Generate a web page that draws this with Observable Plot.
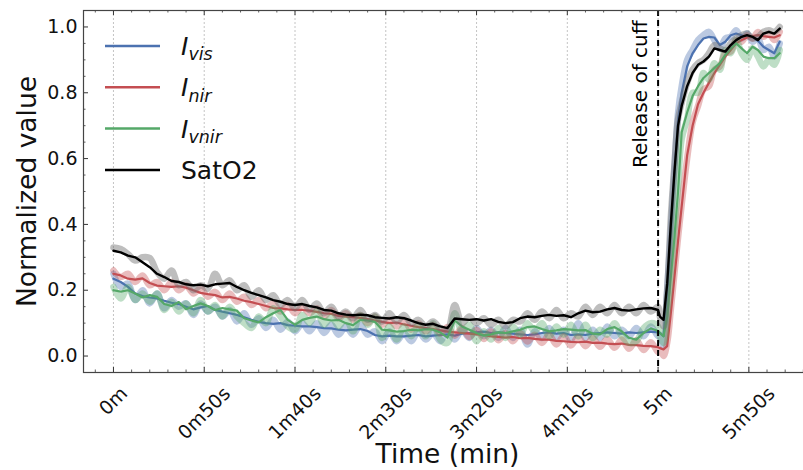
<!DOCTYPE html>
<html><head><meta charset="utf-8">
<script src="https://cdn.jsdelivr.net/npm/d3@7"></script>
<script src="https://cdn.jsdelivr.net/npm/@observablehq/plot@0.6"></script>
<style>
html,body{margin:0;padding:0;background:#fff;overflow:hidden}
svg{font-family:"DejaVu Sans",sans-serif}
</style></head><body><div id="chart"></div>
<script>
// ---------- data (seconds, normalized value) ----------
const times = [
0,4,8,12,16,20,24,28,32,36,
40,44,48,52,56,60,64,68,72,76,
80,84,88,92,96,100,104,108,112,116,
120,124,128,132,136,140,144,148,152,156,
160,164,168,172,176,180,184,188,192,196,
200,204,208,212,216,220,224,228,232,236,
240,244,248,252,256,260,264,268,272,276,
280,284,288,292,296,300,
301,303,305,307,309,311,313,316,319,322,
325,328,331,334,337,340,343,346,349,352,
355,358,361,364,367];

const visSmooth = [
0.235,0.225,0.210,0.190,0.182,0.178,0.175,0.168,0.162,0.158,
0.150,0.142,0.148,0.152,0.140,0.135,0.130,0.125,0.118,0.110,
0.104,0.100,0.098,0.100,0.094,0.092,0.090,0.090,0.088,0.085,
0.084,0.080,0.078,0.080,0.082,0.076,0.064,0.060,0.062,0.060,
0.060,0.062,0.064,0.060,0.062,0.064,0.066,0.062,0.068,0.070,
0.072,0.074,0.070,0.072,0.070,0.068,0.066,0.064,0.066,0.070,
0.072,0.068,0.070,0.064,0.066,0.064,0.068,0.070,0.072,0.070,
0.068,0.072,0.070,0.072,0.074,0.072,
0.070,0.060,0.180,0.360,0.550,0.720,0.800,0.880,0.920,0.945,
0.965,0.970,0.968,0.945,0.955,0.975,0.980,0.975,0.970,0.968,
0.958,0.940,0.930,0.920,0.955];

const nirSmooth = [
0.250,0.245,0.235,0.232,0.236,0.222,0.214,0.212,0.210,0.212,
0.208,0.200,0.192,0.188,0.185,0.178,0.180,0.175,0.168,0.164,
0.158,0.152,0.146,0.145,0.142,0.140,0.140,0.138,0.134,0.130,
0.128,0.122,0.120,0.118,0.116,0.112,0.108,0.104,0.100,0.102,
0.096,0.092,0.088,0.085,0.082,0.078,0.074,0.072,0.070,0.068,
0.066,0.064,0.060,0.058,0.056,0.058,0.054,0.055,0.052,0.050,
0.050,0.046,0.045,0.043,0.042,0.044,0.040,0.041,0.038,0.036,
0.038,0.034,0.033,0.031,0.030,0.027,
0.024,0.020,0.030,0.130,0.240,0.350,0.455,0.610,0.700,0.765,
0.800,0.830,0.860,0.885,0.910,0.930,0.950,0.960,0.968,0.972,
0.975,0.972,0.970,0.968,0.975];

const vnirSmooth = [
0.200,0.196,0.200,0.190,0.178,0.185,0.180,0.158,0.152,0.164,
0.142,0.152,0.160,0.152,0.140,0.146,0.142,0.138,0.115,0.108,
0.102,0.118,0.130,0.140,0.110,0.095,0.110,0.116,0.120,0.112,
0.108,0.110,0.100,0.094,0.110,0.108,0.104,0.080,0.078,0.074,
0.076,0.080,0.078,0.082,0.080,0.072,0.056,0.108,0.090,0.080,
0.070,0.062,0.066,0.072,0.070,0.075,0.080,0.088,0.090,0.082,
0.075,0.078,0.082,0.080,0.078,0.079,0.068,0.066,0.082,0.088,
0.075,0.055,0.050,0.070,0.084,0.076,
0.070,0.060,0.120,0.240,0.360,0.500,0.680,0.740,0.790,0.820,
0.845,0.860,0.875,0.890,0.915,0.935,0.950,0.935,0.920,0.940,
0.930,0.910,0.905,0.905,0.920];

const satSmooth = [
0.320,0.315,0.305,0.300,0.285,0.270,0.250,0.240,0.228,0.225,
0.218,0.215,0.217,0.212,0.218,0.220,0.222,0.210,0.200,0.192,
0.185,0.178,0.170,0.165,0.158,0.155,0.158,0.152,0.148,0.140,
0.138,0.130,0.126,0.124,0.126,0.124,0.118,0.116,0.114,0.118,
0.115,0.108,0.100,0.095,0.098,0.090,0.085,0.114,0.112,0.110,
0.112,0.108,0.112,0.104,0.100,0.103,0.115,0.120,0.118,0.122,
0.125,0.122,0.124,0.118,0.130,0.138,0.133,0.135,0.142,0.146,
0.140,0.138,0.142,0.145,0.146,0.140,
0.120,0.110,0.220,0.400,0.560,0.700,0.760,0.820,0.860,0.885,
0.895,0.910,0.935,0.930,0.925,0.945,0.960,0.970,0.975,0.970,
0.960,0.980,0.985,0.980,0.995];

const visRaw = [
0.25,0.21,0.22,0.17,0.20,0.16,0.19,0.145,0.17,0.15,
0.16,0.125,0.16,0.135,0.15,0.12,0.14,0.105,0.13,0.095,
0.115,0.085,0.11,0.08,0.105,0.075,0.10,0.075,0.10,0.07,
0.095,0.065,0.09,0.065,0.095,0.065,0.075,0.045,0.075,0.045,
0.07,0.045,0.075,0.05,0.07,0.045,0.075,0.05,0.08,0.055,
0.085,0.06,0.08,0.055,0.085,0.055,0.08,0.035,0.075,0.055,
0.085,0.055,0.08,0.05,0.10,0.055,0.08,0.055,0.09,0.06,
0.08,0.06,0.085,0.06,0.09,0.06,
0.065,0.03,0.2,0.38,0.57,0.74,0.82,0.9,0.93,0.96,
0.975,0.985,0.96,0.935,0.965,0.97,0.99,0.965,0.98,0.955,
0.965,0.93,0.94,0.91,0.95];

const nirRaw = [
0.26,0.24,0.25,0.225,0.245,0.215,0.225,0.2,0.225,0.2,
0.215,0.19,0.205,0.18,0.195,0.17,0.19,0.165,0.18,0.155,
0.17,0.145,0.16,0.135,0.155,0.13,0.15,0.13,0.145,0.12,
0.14,0.115,0.13,0.11,0.125,0.10,0.12,0.095,0.11,0.09,
0.11,0.08,0.10,0.075,0.095,0.068,0.088,0.062,0.085,0.058,
0.08,0.052,0.075,0.048,0.07,0.045,0.07,0.044,0.065,0.04,
0.064,0.035,0.06,0.032,0.058,0.03,0.055,0.028,0.052,0.025,
0.05,0.022,0.048,0.018,0.042,0.012,
0.02,0.0,0.04,0.14,0.25,0.36,0.46,0.6,0.71,0.76,
0.81,0.82,0.87,0.88,0.92,0.925,0.96,0.955,0.975,0.965,
0.985,0.97,0.98,0.96,0.985];

const vnirRaw = [
0.21,0.175,0.21,0.17,0.19,0.165,0.19,0.14,0.165,0.135,
0.16,0.13,0.17,0.135,0.155,0.12,0.15,0.12,0.10,0.085,
0.12,0.10,0.145,0.12,0.09,0.08,0.125,0.10,0.135,0.095,
0.12,0.09,0.115,0.075,0.125,0.095,0.12,0.055,0.09,0.05,
0.09,0.06,0.095,0.06,0.10,0.05,0.04,0.13,0.075,0.095,
0.045,0.075,0.05,0.085,0.055,0.09,0.065,0.10,0.075,0.10,
0.06,0.09,0.065,0.095,0.06,0.095,0.055,0.08,0.065,0.10,
0.06,0.04,0.045,0.085,0.1,0.09,
0.06,0.04,0.13,0.25,0.38,0.52,0.66,0.72,0.8,0.8,
0.86,0.84,0.89,0.87,0.93,0.92,0.96,0.92,0.90,0.935,
0.91,0.88,0.90,0.885,0.93];

const satRaw = [
0.33,0.325,0.31,0.29,0.30,0.298,0.255,0.235,0.26,0.215,
0.225,0.2,0.215,0.205,0.25,0.215,0.23,0.2,0.215,0.18,
0.2,0.17,0.185,0.155,0.17,0.145,0.17,0.14,0.16,0.13,
0.15,0.12,0.135,0.115,0.14,0.11,0.125,0.105,0.13,0.105,
0.125,0.1,0.11,0.09,0.105,0.085,0.08,0.155,0.1,0.12,
0.1,0.115,0.095,0.11,0.09,0.11,0.105,0.13,0.11,0.135,
0.115,0.14,0.115,0.13,0.12,0.15,0.125,0.15,0.13,0.155,
0.13,0.15,0.13,0.155,0.135,0.15,
0.12,0.09,0.2,0.42,0.58,0.72,0.77,0.83,0.87,0.89,
0.9,0.92,0.945,0.935,0.93,0.95,0.965,0.975,0.98,0.965,
0.97,0.985,0.99,0.985,1.0];

const seriesNames = ["vis","nir","vnir","SatO2"];
const legendMain = ["I","I","I","SatO2"];
const legendSub = ["vis","nir","vnir",""];
const seriesColors = ["#4c72b0","#c44e52","#55a868","#000000"];

const xMajor = [0,50,100,150,200,250,300,350];
const xTickLabels = ["0m","0m50s","1m40s","2m30s","3m20s","4m10s","5m","5m50s"];
const xMinor = [-10,10,20,30,40,60,70,80,90,110,120,130,140,160,170,180,190,210,220,230,240,260,270,280,290,310,320,330,340,360,370,380];
const yMajor = [0,0.2,0.4,0.6,0.8,1.0];
const yMinor = [0.05,0.1,0.15,0.25,0.3,0.35,0.45,0.5,0.55,0.65,0.7,0.75,0.85,0.9,0.95];
const releaseTime = [300];
const releaseLabel = "Release of cuff";
const xLabel = "Time (min)";
const yLabel = "Normalized value";

// ---------- layout ----------
const W = 803, H = 470;
const mL = 83, mR = -8, mT = 10, mB = 98;
const innerH = H - mT - mB, innerW = W - mL - mR;
const majorLen = 5, minorLen = 2.5;
const tickFs = 19;

const rows = v => times.map((t, i) => ({t, v: v[i]}));
const smooth = [visSmooth, nirSmooth, vnirSmooth, satSmooth];
const raw = [visRaw, nirRaw, vnirRaw, satRaw];
const rawOpacity = [0.38, 0.38, 0.38, 0.45];
const rawColors = ["#4c72b0","#c44e52","#55a868","#6f6f6f"];

const marks = [
  Plot.ruleX(xMajor, {x: d => d, stroke: "#b5b5b5", strokeWidth: 0.8, strokeDasharray: "2,2"})
];
for (let k = 0; k < 4; k++) {
  marks.push(Plot.line(rows(raw[k]), {x: "t", y: "v", stroke: rawColors[k], strokeOpacity: rawOpacity[k], strokeWidth: 6.5, curve: "catmull-rom"}));
  marks.push(Plot.line(rows(smooth[k]), {x: "t", y: "v", stroke: seriesColors[k], strokeWidth: k === 3 ? 2.4 : 2.2}));
}
marks.push(
  Plot.ruleX(releaseTime, {x: d => d, stroke: "#000", strokeWidth: 2, strokeDasharray: "6,4"}),
  Plot.text(releaseTime, {x: d => d, frameAnchor: "top", dy: 10, dx: -11, text: () => releaseLabel, rotate: -90, textAnchor: "end", lineAnchor: "bottom", fontSize: 20, fill: "#000"}),
  // ticks (inward)
  Plot.tickX(xMajor, {x: d => d, insetTop: innerH - majorLen, stroke: "#333"}),
  Plot.tickX(xMinor, {x: d => d, insetTop: innerH - minorLen, stroke: "#333", strokeWidth: 0.8}),
  Plot.tickX(xMajor, {x: d => d, insetBottom: innerH - majorLen, stroke: "#333"}),
  Plot.tickX(xMinor, {x: d => d, insetBottom: innerH - minorLen, stroke: "#333", strokeWidth: 0.8}),
  Plot.tickY(yMajor, {y: d => d, insetRight: innerW - majorLen, stroke: "#333"}),
  Plot.tickY(yMinor, {y: d => d, insetRight: innerW - minorLen, stroke: "#333", strokeWidth: 0.8}),
  Plot.frame({stroke: "#444", strokeWidth: 1.2}),
  // tick labels
  Plot.text(yMajor, {y: d => d, frameAnchor: "left", dx: -6, text: d => d.toFixed(1), textAnchor: "end", fontSize: tickFs, fill: "#111"}),
  Plot.text(xMajor, {x: d => d, frameAnchor: "bottom", text: (d, i) => xTickLabels[i], rotate: -45, textAnchor: "middle", lineAnchor: "middle", fontSize: tickFs, fill: "#111"}),
  // axis titles
  Plot.text([yLabel], {frameAnchor: "left", dx: -48, text: d => d, rotate: -90, textAnchor: "middle", lineAnchor: "bottom", fontSize: 26.5, fill: "#111"}),
  Plot.text([xLabel], {frameAnchor: "bottom", dy: 90, text: d => d, textAnchor: "middle", lineAnchor: "bottom", fontSize: 26.5, fill: "#111"})
);

const chart = Plot.plot({
  width: W, height: H,
  marginLeft: mL, marginRight: mR, marginTop: mT, marginBottom: mB,
  x: {domain: [-16.5, 384.5], axis: null},
  y: {domain: [-0.05, 1.05], axis: null},
  style: {fontFamily: "DejaVu Sans", background: "#fff", overflow: "hidden"},
  marks
});
document.getElementById("chart").appendChild(chart);

// place rotated x tick labels like matplotlib (centered under tick, top aligned)
const labelTop = 385;
chart.querySelectorAll("text").forEach(el => {
  if (!xTickLabels.includes(el.textContent)) return;
  const L = el.getComputedTextLength();
  const tr = el.getAttribute("transform") || "";
  const m = /translate\(\s*([-\d.e]+)[ ,]+([-\d.e]+)\s*\)/.exec(tr);
  if (!m) return;
  const x = +m[1];
  const yc = labelTop + (L + 0.73 * tickFs) / (2 * Math.SQRT2);
  el.setAttribute("transform", `translate(${x},${yc}) rotate(-45)`);
});

// legend
const svg = d3.select(chart);
const lg = svg.append("g").attr("font-family", "DejaVu Sans").attr("fill", "#111").attr("text-anchor", "start");
const lx0 = 105, lx1 = 160, ltx = 181, ly0 = 46, ldy = 41.3, lfs = 25;
seriesNames.forEach((n, i) => {
  const y = ly0 + i * ldy;
  lg.append("line").attr("x1", lx0).attr("x2", lx1).attr("y1", y).attr("y2", y)
    .attr("stroke", seriesColors[i]).attr("stroke-width", 2.5);
  const t = lg.append("text").attr("x", ltx).attr("y", y).attr("dy", "0.36em").attr("font-size", lfs);
  if (legendSub[i]) {
    t.append("tspan").attr("font-style", "italic").text(legendMain[i]);
    t.append("tspan").attr("font-style", "italic").attr("font-size", lfs * 0.7).attr("dy", "0.3em").text(legendSub[i]);
  } else {
    t.text(legendMain[i]);
  }
});
</script>
</body></html>
